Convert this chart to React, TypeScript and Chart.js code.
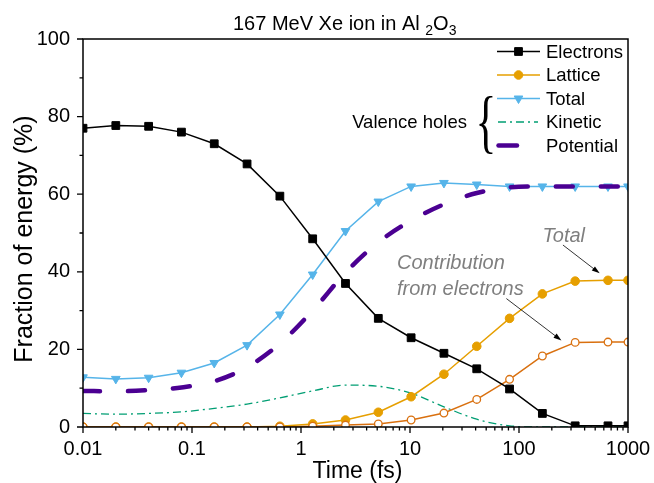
import React, { useEffect, useRef } from 'react';
import { Chart, registerables } from 'chart.js';
import { drawPoint } from 'chart.js/helpers';

Chart.register(...registerables);

// Simulation times (fs) and energy fractions (%)
const times = [0.01, 0.02, 0.04, 0.08, 0.16, 0.32, 0.64, 1.28, 2.56, 5.12, 10.24, 20.48, 40.96, 81.92, 163.84, 327.68, 655.36, 1000];
const electrons = [77.0, 77.7, 77.5, 76.0, 73.0, 67.8, 59.5, 48.5, 37.0, 28.0, 23.0, 19.0, 15.0, 9.8, 3.5, 0.3, 0.3, 0.3];
const lattice = [0, 0, 0, 0, 0, 0, 0.2, 0.8, 1.8, 3.8, 7.8, 13.6, 20.8, 28.0, 34.3, 37.6, 37.8, 37.8];
const latticeFromElectrons = [0, 0, 0, 0, 0, 0, 0, 0.2, 0.5, 0.8, 1.8, 3.6, 7.1, 12.3, 18.3, 21.8, 21.9, 21.9];
const holesTotal = [12.8, 12.4, 12.7, 14.0, 16.5, 21.1, 29.0, 39.3, 50.5, 58.1, 62.0, 62.9, 62.5, 62.0, 62.0, 62.0, 62.0, 62.0];
const holesKinetic = [3.5, 3.3, 3.5, 3.9, 4.8, 5.9, 7.5, 9.3, 10.8, 10.5, 8.7, 5.2, 2.0, 0.3, 0, 0, 0, 0];
const holesPotential = [9.3, 9.2, 9.5, 10.2, 11.8, 15.4, 21.5, 30.0, 39.8, 47.6, 53.2, 57.4, 60.3, 61.8, 62.0, 62.0, 62.0, 62.0];

// Axis ticks
const xTickValues = [0.01, 0.1, 1, 10, 100, 1000];
const xTickLabels = ['0.01', '0.1', '1', '10', '100', '1000'];
const yTickValues = [0, 20, 40, 60, 80, 100];
const yMinorValues = [10, 30, 50, 70, 90];

// Text annotations (data coordinates)
const notes = [
  { text: 'Total', x: 164, y: 47.7 },
  { text: 'Contribution', x: 7.6, y: 40.7 },
  { text: 'from electrons', x: 7.6, y: 34.0 },
];
const arrows = [
  { x0: 253, y0: 46.9, x1: 550, y1: 39.6 },
  { x0: 76.6, y0: 33.1, x1: 245, y1: 22.3 },
];

const SANS = '"Liberation Sans", Arial, sans-serif';

const C_ELECTRONS = '#000000';
const C_LATTICE = '#E69F00';
const C_FROM_E = '#D9700F';
const C_TOTAL = '#56B4E9';
const C_KINETIC = '#009E73';
const C_POTENTIAL = '#4B0092';

const pts = (ys: number[]) => times.map((t, i) => ({ x: t, y: ys[i] }));

const legendRows = [
  { label: 'Electrons', key: 'electrons' },
  { label: 'Lattice', key: 'lattice' },
  { label: 'Total', key: 'total' },
  { label: 'Kinetic', key: 'kinetic' },
  { label: 'Potential', key: 'potential' },
];

function drawArrow(ctx: CanvasRenderingContext2D, x0: number, y0: number, x1: number, y1: number) {
  const ang = Math.atan2(y1 - y0, x1 - x0);
  const len = 8;
  const half = 2.6;
  ctx.beginPath();
  ctx.moveTo(x0, y0);
  ctx.lineTo(x1 - Math.cos(ang) * len * 0.8, y1 - Math.sin(ang) * len * 0.8);
  ctx.stroke();
  ctx.beginPath();
  ctx.moveTo(x1, y1);
  ctx.lineTo(x1 - Math.cos(ang) * len - Math.sin(ang) * half, y1 - Math.sin(ang) * len + Math.cos(ang) * half);
  ctx.lineTo(x1 - Math.cos(ang) * len + Math.sin(ang) * half, y1 - Math.sin(ang) * len - Math.cos(ang) * half);
  ctx.closePath();
  ctx.fill();
}

const overlay = {
  id: 'overlay',
  afterDraw(chart: any) {
    const { ctx, chartArea: a, scales } = chart;
    const xs = scales.x;
    const ys = scales.y;
    ctx.save();

    // frame
    ctx.strokeStyle = '#000';
    ctx.lineWidth = 1.5;
    ctx.strokeRect(a.left, a.top, a.right - a.left, a.bottom - a.top);

    // outward tick marks
    ctx.lineWidth = 1.3;
    ctx.beginPath();
    for (const v of yTickValues) {
      const p = ys.getPixelForValue(v);
      ctx.moveTo(a.left - 6, p);
      ctx.lineTo(a.left, p);
    }
    for (const v of yMinorValues) {
      const p = ys.getPixelForValue(v);
      ctx.moveTo(a.left - 3.5, p);
      ctx.lineTo(a.left, p);
    }
    for (const v of xTickValues) {
      const p = xs.getPixelForValue(v);
      ctx.moveTo(p, a.bottom);
      ctx.lineTo(p, a.bottom + 6);
    }
    for (let d = 0; d < xTickValues.length - 1; d++) {
      for (let m = 2; m <= 9; m++) {
        const p = xs.getPixelForValue(xTickValues[d] * m);
        ctx.moveTo(p, a.bottom);
        ctx.lineTo(p, a.bottom + 3.5);
      }
    }
    ctx.stroke();

    // axis titles
    ctx.fillStyle = '#000';
    ctx.textAlign = 'center';
    ctx.textBaseline = 'alphabetic';
    ctx.font = `23px ${SANS}`;
    ctx.fillText('Time (fs)', (a.left + a.right) / 2 + 2, 478);
    ctx.save();
    ctx.translate(32, (a.top + a.bottom) / 2 + 6);
    ctx.rotate(-Math.PI / 2);
    ctx.font = `25px ${SANS}`;
    ctx.fillText('Fraction of energy (%)', 0, 0);
    ctx.restore();

    // title with subscripts
    ctx.textAlign = 'left';
    const parts = [
      { t: '167 MeV Xe ion in Al ', sub: false },
      { t: '2', sub: true },
      { t: 'O', sub: false },
      { t: '3', sub: true },
    ];
    let tx = a.left + 150;
    const ty = 30;
    for (const p of parts) {
      ctx.font = p.sub ? `14px ${SANS}` : `20px ${SANS}`;
      ctx.fillText(p.t, tx, p.sub ? ty + 4.5 : ty);
      tx += ctx.measureText(p.t).width;
    }

    // legend
    const metas: Record<string, any> = {};
    chart.data.datasets.forEach((ds: any) => { metas[ds.key] = ds; });
    const lx0 = 497, lx1 = 540, lmid = 518.5, ltext = 546;
    const rowY = [51.5, 75, 98.5, 122, 145.5];
    ctx.font = `18.5px ${SANS}`;
    ctx.textBaseline = 'middle';
    legendRows.forEach((row, i) => {
      const ds = metas[row.key];
      const y = rowY[i];
      ctx.save();
      ctx.strokeStyle = ds.borderColor;
      ctx.lineWidth = ds.borderWidth;
      ctx.lineCap = ds.borderCapStyle || 'butt';
      ctx.setLineDash(ds.borderDash || []);
      ctx.beginPath();
      if (row.key === 'potential') {
        ctx.setLineDash([]);
        ctx.moveTo(lx0 + 1.5, y);
        ctx.lineTo(lx0 + 20, y);
      } else if (row.key === 'kinetic') {
        ctx.moveTo(lx0 + 1, y);
        ctx.lineTo(lx1 - 2, y);
      } else {
        ctx.moveTo(lx0, y);
        ctx.lineTo(lx1, y);
      }
      ctx.stroke();
      ctx.setLineDash([]);
      if (ds.pointRadius > 0) {
        ctx.fillStyle = ds.pointBackgroundColor;
        ctx.strokeStyle = ds.borderColor;
        ctx.lineWidth = ds.pointBorderWidth;
        drawPoint(ctx, {
          pointStyle: ds.pointStyle,
          radius: ds.pointRadius,
          rotation: ds.pointRotation || 0,
          borderWidth: ds.pointBorderWidth,
        } as any, lmid, y);
      }
      ctx.restore();
      ctx.fillStyle = '#000';
      ctx.fillText(row.label, ltext, y + 1);
    });

    // valence-holes group label and brace
    ctx.textAlign = 'right';
    ctx.fillText('Valence holes', 467, 122.5);
    ctx.save();
    ctx.translate(486, 127);
    ctx.scale(0.62, 1);
    ctx.font = `70px "Liberation Serif", "Times New Roman", serif`;
    ctx.textAlign = 'center';
    ctx.textBaseline = 'middle';
    ctx.fillText('{', 0, 0);
    ctx.restore();

    // grey annotations with arrows
    ctx.fillStyle = '#7F7F7F';
    ctx.textAlign = 'left';
    ctx.textBaseline = 'alphabetic';
    ctx.font = `italic 20px ${SANS}`;
    for (const n of notes) {
      ctx.fillText(n.text, xs.getPixelForValue(n.x), ys.getPixelForValue(n.y));
    }
    ctx.strokeStyle = '#000';
    ctx.fillStyle = '#000';
    ctx.lineWidth = 0.8;
    for (const r of arrows) {
      drawArrow(ctx, xs.getPixelForValue(r.x0), ys.getPixelForValue(r.y0), xs.getPixelForValue(r.x1), ys.getPixelForValue(r.y1));
    }
    ctx.restore();
  },
};

const noScalePadding = (s: any) => {
  s.paddingLeft = 0;
  s.paddingRight = 0;
  s.paddingTop = 0;
  s.paddingBottom = 0;
};

export default function App() {
  const ref = useRef<HTMLCanvasElement>(null);
  useEffect(() => {
    document.body.style.margin = '0';
    const chart = new Chart(ref.current as HTMLCanvasElement, {
      type: 'line',
      data: {
        datasets: [
          {
            key: 'potential', label: 'Potential', data: pts(holesPotential),
            borderColor: C_POTENTIAL, backgroundColor: C_POTENTIAL, borderWidth: 4.5,
            borderDash: [17, 28], borderCapStyle: 'round', pointRadius: 0,
            cubicInterpolationMode: 'monotone', clip: 0, order: 0,
          },
          {
            key: 'electrons', label: 'Electrons', data: pts(electrons),
            borderColor: C_ELECTRONS, backgroundColor: C_ELECTRONS, pointBackgroundColor: C_ELECTRONS,
            borderWidth: 1.5, pointStyle: 'rect', pointRadius: 5.5, pointBorderWidth: 1,
            clip: 0, order: 1,
          },
          {
            key: 'fromElectrons', label: 'Contribution from electrons', data: pts(latticeFromElectrons),
            borderColor: C_FROM_E, backgroundColor: '#ffffff', pointBackgroundColor: '#ffffff',
            borderWidth: 1.5, pointStyle: 'circle', pointRadius: 3.8, pointBorderWidth: 1.3,
            clip: 0, order: 2,
          },
          {
            key: 'lattice', label: 'Lattice', data: pts(lattice),
            borderColor: C_LATTICE, backgroundColor: C_LATTICE, pointBackgroundColor: C_LATTICE,
            borderWidth: 1.5, pointStyle: 'circle', pointRadius: 4.3, pointBorderWidth: 1,
            clip: 0, order: 3,
          },
          {
            key: 'total', label: 'Total', data: pts(holesTotal),
            borderColor: C_TOTAL, backgroundColor: C_TOTAL, pointBackgroundColor: C_TOTAL,
            borderWidth: 1.5, pointStyle: 'triangle', pointRotation: 180, pointRadius: 5, pointBorderWidth: 1,
            clip: 0, order: 4,
          },
          {
            key: 'kinetic', label: 'Kinetic', data: pts(holesKinetic),
            borderColor: C_KINETIC, backgroundColor: C_KINETIC, borderWidth: 1.3,
            borderDash: [8, 4, 2, 4], pointRadius: 0,
            cubicInterpolationMode: 'monotone', clip: 0, order: 5,
          },
        ] as any,
      },
      options: {
        animation: false,
        responsive: false,
        devicePixelRatio: 1,
        events: [],
        layout: { padding: { top: 39, right: 26, bottom: 0, left: 0 } },
        plugins: { legend: { display: false }, title: { display: false }, tooltip: { enabled: false } },
        scales: {
          x: {
            type: 'logarithmic',
            min: 0.01,
            max: 1000,
            afterBuildTicks: (s: any) => { s.ticks = xTickValues.map((v) => ({ value: v })); },
            afterFit: (s: any) => { s.height = 56; noScalePadding(s); },
            grid: { display: false, drawTicks: false },
            border: { display: false },
            ticks: {
              autoSkip: false, maxRotation: 0, minRotation: 0, padding: 10, color: '#000',
              font: { family: SANS, size: 20 },
              callback: (_v: any, i: number) => xTickLabels[i],
            },
          },
          y: {
            type: 'linear',
            min: 0,
            max: 100,
            afterBuildTicks: (s: any) => { s.ticks = yTickValues.map((v) => ({ value: v })); },
            afterFit: (s: any) => { s.width = 83; noScalePadding(s); },
            grid: { display: false, drawTicks: false },
            border: { display: false },
            ticks: {
              padding: 13, color: '#000',
              font: { family: SANS, size: 20 },
              callback: (v: any) => String(v),
            },
          },
        },
      } as any,
      plugins: [overlay],
    });
    return () => chart.destroy();
  }, []);
  return (
    <div style={{ width: 654, height: 483 }}>
      <canvas ref={ref} width={654} height={483} style={{ display: 'block' }} />
    </div>
  );
}
